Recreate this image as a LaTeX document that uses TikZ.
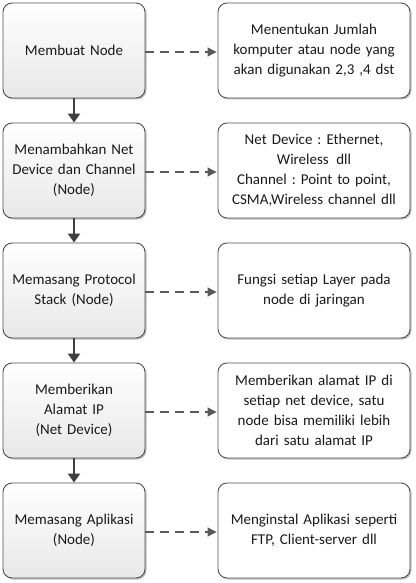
\documentclass[tikz,border=0pt]{standalone}
\usepackage{fontspec}
\setmainfont{Carlito}
\frenchspacing
\usetikzlibrary{shadows,arrows.meta}
\definecolor{bordc}{HTML}{505050}
\definecolor{arrc}{HTML}{404040}
\definecolor{dashc}{HTML}{5A5A5A}
\definecolor{txtc}{HTML}{1A1A1A}
\tikzset{
  box/.style={draw=bordc, line width=0.9pt, rounded corners=9pt, minimum width=142pt, minimum height=95pt, align=center, font=\fontsize{15}{20}\selectfont, text=txtc, text width=140pt, inner sep=0pt,
    drop shadow={shadow xshift=1.5pt, shadow yshift=-1.5pt, opacity=0.25, fill=black}},
  stepbox/.style={box, top color=white, bottom color=gray!18},
  notebox/.style={box, fill=white, minimum width=192pt, text width=190pt},
  flow/.style={draw=arrc, line width=2.6pt, -{Triangle[length=9pt,width=12pt]}},
  note/.style={draw=dashc, line width=1.2pt, dash pattern=on 9pt off 6pt, -{Triangle[length=9pt,width=9pt]}, shorten >=1pt}
}
\begin{document}
\begin{tikzpicture}[x=1pt,y=-1pt]
\useasboundingbox (0,0) rectangle (415,583);
\node[stepbox] (s1) at (74,50.5) {Membuat Node};
\node[stepbox] (s2) at (74,170.5) {Menambahkan Net\\Device dan Channel\\(Node)};
\node[stepbox] (s3) at (74,290.5) {Memasang Protocol\\Stack (Node)};
\node[stepbox] (s4) at (74,410.5) {Memberikan\\Alamat IP\\(Net Device)};
\node[stepbox] (s5) at (74,530.5) {Memasang Aplikasi\\(Node)};
\node[notebox] (n1) at (314,50.5) {Menentukan Jumlah\\komputer atau node yang\\akan digunakan 2,3 ,4 dst};
\node[notebox] (n2) at (314,170.5) {Net Device : Ethernet,\\Wireless\ \,dll\\Channel : Point to point,\\CSMA,Wireless channel dll};
\node[notebox] (n3) at (314,290.5) {Fungsi setiap Layer pada\\node di jaringan};
\node[notebox] (n4) at (314,410.5) {Memberikan alamat IP di\\setiap net device, satu\\node bisa memiliki lebih\\dari satu alamat IP};
\node[notebox] (n5) at (314,530.5) {Menginstal Aplikasi seperti\\FTP, Client-server dll};
\foreach \a/\b in {s1/s2,s2/s3,s3/s4,s4/s5} \draw[flow] (\a) -- (\b);
\foreach \i in {1,...,5} \draw[note] ([yshift=-1.5pt]s\i.east) -- ([yshift=-1.5pt]n\i.west);
\end{tikzpicture}
\end{document}
